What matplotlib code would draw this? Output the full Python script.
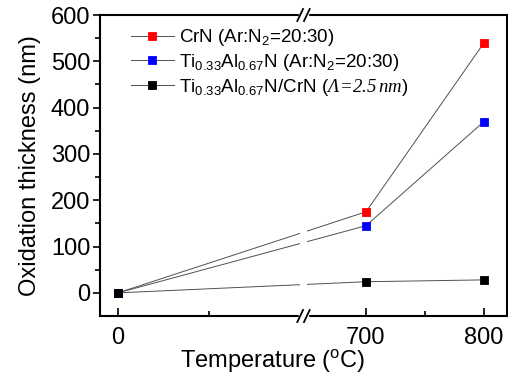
import numpy as np
import matplotlib
matplotlib.use("Agg")
import matplotlib.pyplot as plt

plt.rcParams['font.family'] = ['Liberation Sans', 'DejaVu Sans']
plt.rcParams['mathtext.fontset'] = 'custom'
plt.rcParams['mathtext.rm'] = 'Liberation Sans'
plt.rcParams['mathtext.it'] = 'Liberation Sans:italic'
plt.rcParams['mathtext.sf'] = 'Liberation Serif:italic'

temps = [0, 700, 800]
crn = [0, 175, 540]
tialn = [0, 145, 370]
multi = [0, 24, 28]
labels = ["CrN (Ar:N$_2$=20:30)",
          "Ti$_{0.33}$Al$_{0.67}$N (Ar:N$_2$=20:30)",
          "Ti$_{0.33}$Al$_{0.67}$N/CrN ($\\mathsf{Λ\\!=\\!2.5\\,nm}$)"]
colors = ['#ff0000', '#0000ff', '#000000']
xticks = [0, 700, 800]
yticks = [0, 100, 200, 300, 400, 500, 600]

# piecewise broken x scale
B1, B2 = 200.0, 650.0
S1, S2 = 0.91, 1.18
G1 = B1 * S1
GM = 7.0 / (B2 - B1)
G2 = G1 + 7.0

def fwd(x):
    x = np.asarray(x, dtype=float)
    return np.where(x <= B1, x * S1,
                    np.where(x < B2, G1 + (x - B1) * GM, G2 + (x - B2) * S2))

def inv(g):
    g = np.asarray(g, dtype=float)
    return np.where(g <= G1, g / S1,
                    np.where(g < G2, B1 + (g - G1) / GM, B2 + (g - G2) / S2))

fig = plt.figure(figsize=(5.08, 3.76), dpi=100)
ax = fig.add_axes([100/508, 1 - 316/376, 407/508, 301/376])
ax.set_xscale('function', functions=(fwd, inv))

for y, c, lab in zip([crn, tialn, multi], colors, labels):
    ax.plot(temps, y, color='#505050', lw=0.7, marker='s', ms=6.2,
            mfc=c, mec=c, mew=0.6, label=lab, zorder=3)

ax.set_xlim(-19.8, 819.5)
ax.set_ylim(-50, 600)
ax.set_xticks(xticks)
ax.set_xticks([100, 750], minor=True)
ax.set_yticks(yticks)
ax.set_yticks([50, 150, 250, 350, 450, 550], minor=True)
ax.tick_params(axis='x', direction='in', length=6, width=1.2, labelsize=17, pad=8)
ax.tick_params(axis='x', which='minor', direction='in', length=3.5, width=1.2)
ax.tick_params(axis='y', direction='out', length=5, width=1.2, labelsize=17, pad=2)
ax.tick_params(axis='y', which='minor', direction='out', length=3.5, width=1.2)
for s in ax.spines.values():
    s.set_linewidth(1.5)

# break gap and marks
ax.axvspan(B1, B2, color='white', zorder=3.5, lw=0)
tr = ax.get_xaxis_transform()
xc = (fwd(B1) + fwd(B2)) / 2
for yb in (0.0, 1.0):
    ax.plot([B1, B2], [yb, yb], transform=tr, color='white', lw=2.5,
            clip_on=False, zorder=5)
    for dx in (-3.5, 3.5):
        xa = float(inv(xc + dx * 389 / 407 - 3 * 389 / 407))
        xb = float(inv(xc + dx * 389 / 407 + 3 * 389 / 407))
        ax.plot([xa, xb], [yb - 0.02, yb + 0.02], transform=tr, color='black',
                lw=1.3, clip_on=False, zorder=6)

ax.set_xlabel("Temperature ($^{\\rm o}$C)", fontsize=17)
ax.xaxis.set_label_coords(0.425, -0.105)
ax.set_ylabel("Oxidation thickness (nm)", fontsize=17, labelpad=7)

ax.legend(loc='upper left', bbox_to_anchor=(0.045, 1.0), frameon=False,
          fontsize=13.5, handlelength=2.3, handletextpad=0.3,
          labelspacing=0.2, borderaxespad=0.25)

fig.savefig("out.png", dpi=100)
